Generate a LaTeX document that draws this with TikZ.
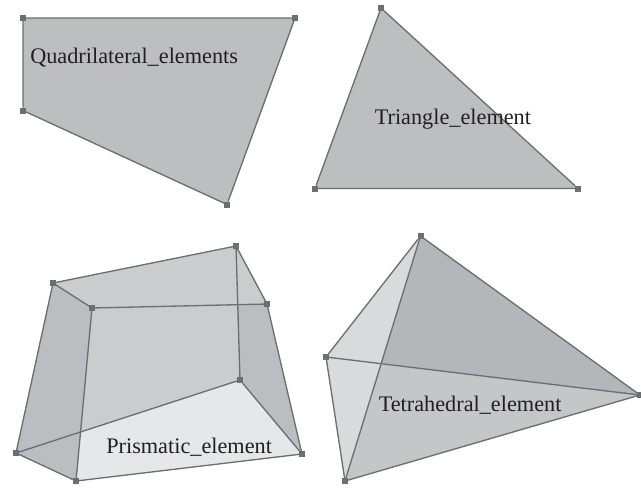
\documentclass[tikz,border=0pt]{standalone}
\usepackage{fontspec}
\setmainfont{Liberation Serif}
\definecolor{edgegray}{HTML}{6D6E71}
\definecolor{quadfill}{HTML}{BDBEC0}
\definecolor{facemid}{HTML}{CBCCCE}
\definecolor{facedark}{HTML}{BCBDC0}
\definecolor{facelight}{HTML}{E6E7E9}
\definecolor{tetlight}{HTML}{D9DADC}
\definecolor{tetdark}{HTML}{B5B6B9}
\definecolor{tetmid}{HTML}{C5C6C8}
\definecolor{labelcol}{HTML}{231F20}
\pgfdeclarelayer{faces}
\pgfsetlayers{faces,main}
\tikzset{
  vtx/.style={fill=edgegray,draw=none,minimum size=4.5pt,inner sep=0pt,outer sep=0pt,rectangle},
  edgeline/.style={draw=edgegray,line width=1pt},
  lbl/.style={text=labelcol,font=\fontsize{16.7}{19}\selectfont,inner sep=0pt,anchor=base west},
}
\begin{document}
\begin{tikzpicture}[x=0.75pt,y=-0.75pt]
\useasboundingbox (0,0) rectangle (641,487);
% Quadrilateral
\node[vtx] (q1) at (23,18) {};
\node[vtx] (q2) at (295,18) {};
\node[vtx] (q3) at (227,204.5) {};
\node[vtx] (q4) at (23,110.5) {};
% Triangle
\node[vtx] (t1) at (381,8) {};
\node[vtx] (t2) at (578,188.5) {};
\node[vtx] (t3) at (315,188.5) {};
% Prism
\node[vtx] (a) at (53,283) {};
\node[vtx] (b) at (236,246) {};
\node[vtx] (c) at (267,304) {};
\node[vtx] (d) at (92,308) {};
\node[vtx] (e) at (16,453) {};
\node[vtx] (f) at (76,481) {};
\node[vtx] (g) at (302,454) {};
\node[vtx] (h) at (240,380) {};
\coordinate (px) at (intersection of e--h and d--f);
% Tetrahedron
\node[vtx] (w1) at (420.5,236) {};
\node[vtx] (w2) at (326,357) {};
\node[vtx] (w3) at (640,395) {};
\node[vtx] (w4) at (345,481) {};
\coordinate (wx) at (intersection of w2--w3 and w1--w4);
\begin{pgfonlayer}{faces}
\fill[quadfill] (q1.center) -- (q2.center) -- (q3.center) -- (q4.center) -- cycle;
\fill[quadfill] (t1.center) -- (t2.center) -- (t3.center) -- cycle;
\fill[facemid] (a.center) -- (b.center) -- (c.center) -- (d.center) -- cycle;
\fill[facemid] (d.center) -- (c.center) -- (h.center) -- (px) -- cycle;
\fill[facedark] (a.center) -- (d.center) -- (f.center) -- (e.center) -- cycle;
\fill[facemid] (b.center) -- (c.center) -- (h.center) -- cycle;
\fill[facedark] (237.5,305.5) -- (c.center) -- (g.center) -- (h.center) -- cycle;
\fill[facelight] (px) -- (h.center) -- (g.center) -- (f.center) -- cycle;
\fill[tetlight] (w1.center) -- (w2.center) -- (w4.center) -- cycle;
\fill[tetdark] (w1.center) -- (w3.center) -- (wx) -- cycle;
\fill[tetmid] (wx) -- (w3.center) -- (w4.center) -- cycle;
\end{pgfonlayer}
\draw[edgeline] (q1) -- (q2) -- (q3) -- (q4) -- (q1);
\draw[edgeline] (t1) -- (t2) -- (t3) -- (t1);
\draw[edgeline] (a) -- (b) -- (c) -- (d) -- (a);
\draw[edgeline] (a) -- (e) -- (f) -- (g) -- (c);
\draw[edgeline] (d) -- (f);
\draw[edgeline] (b) -- (h);
\draw[edgeline] (e) -- (h) -- (g);
\draw[edgeline] (w1) -- (w2) -- (w4) -- (w3) -- (w1);
\draw[edgeline] (w1) -- (w4);
\draw[edgeline] (w2) -- (w3);
\node[lbl] (lq) at (30,63) {Quadrilateral\_elements};
\node[lbl] (lt) at (374.5,124.5) {Triangle\_element};
\node[lbl] (lp) at (106,453) {Prismatic\_element};
\node[lbl] (lw) at (378.5,411.5) {Tetrahedral\_element};
\end{tikzpicture}
\end{document}
